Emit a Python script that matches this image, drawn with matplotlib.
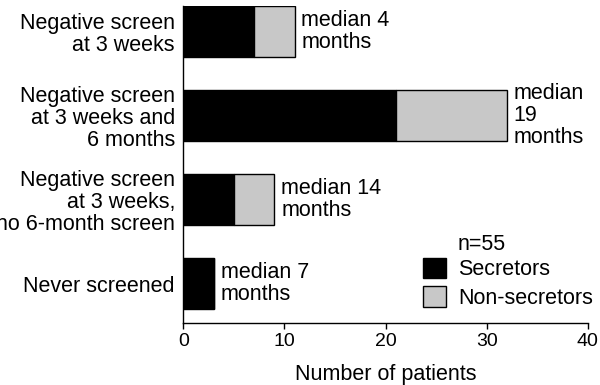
import numpy as np
import matplotlib.pyplot as plt
from matplotlib.patches import Patch

plt.rcParams['font.family'] = ['Liberation Sans', 'DejaVu Sans']
plt.rcParams['font.size'] = 15.5

# Screening groups, bottom to top
groups = ["Never screened",
          "Negative screen\nat 3 weeks,\nno 6-month screen",
          "Negative screen\nat 3 weeks and\n6 months",
          "Negative screen\nat 3 weeks"]
secretors = [3, 5, 21, 7]
non_secretors = [0, 4, 11, 4]
medians = ["median 7\nmonths", "median 14\nmonths", "median\n19\nmonths", "median 4\nmonths"]

fig = plt.figure(figsize=(6.0, 3.85), dpi=100)
ax = fig.add_axes([0.3055, 0.161, 0.674, 0.823])

y = np.arange(len(groups))
sec = np.array(secretors)
non = np.array(non_secretors)

ax.barh(y, sec, height=0.6, color="black", edgecolor="black", linewidth=1)
ax.barh(y, non, left=sec, height=0.6, color="#c8c8c8", edgecolor="black", linewidth=1)

for yi, total, txt in zip(y, sec + non, medians):
    ax.annotate(txt, xy=(total, yi), xytext=(5, 0), textcoords="offset points",
                ha="left", va="center", linespacing=1.05)

ax.set_xlim(0, 40)
ax.set_ylim(-0.47, 3.30)
ax.set_xticks([0, 10, 20, 30, 40])
ax.set_yticks(y)
ax.set_yticklabels(groups, linespacing=1.05)
ax.tick_params(axis="y", length=0, pad=6)
ax.tick_params(axis="x", direction="out", length=4, width=1, pad=3, labelsize=14)
ax.set_xlabel("Number of patients", labelpad=10)

for side in ["top", "right"]:
    ax.spines[side].set_visible(False)
for side in ["left", "bottom"]:
    ax.spines[side].set_linewidth(1)

handles = [Patch(facecolor="black", edgecolor="black", label="Secretors"),
           Patch(facecolor="#c8c8c8", edgecolor="black", label="Non-secretors")]
leg = ax.legend(handles=handles, loc="lower left", bbox_to_anchor=(0.593, 0.045),
                frameon=False, handlelength=1.07, handleheight=1.07,
                handletextpad=0.55, labelspacing=0.28, borderpad=0, borderaxespad=0)
fig.text(458 / 600, 1 - 244 / 385, "n=55", ha="left", va="center")

fig.savefig("out.png", dpi=100)
